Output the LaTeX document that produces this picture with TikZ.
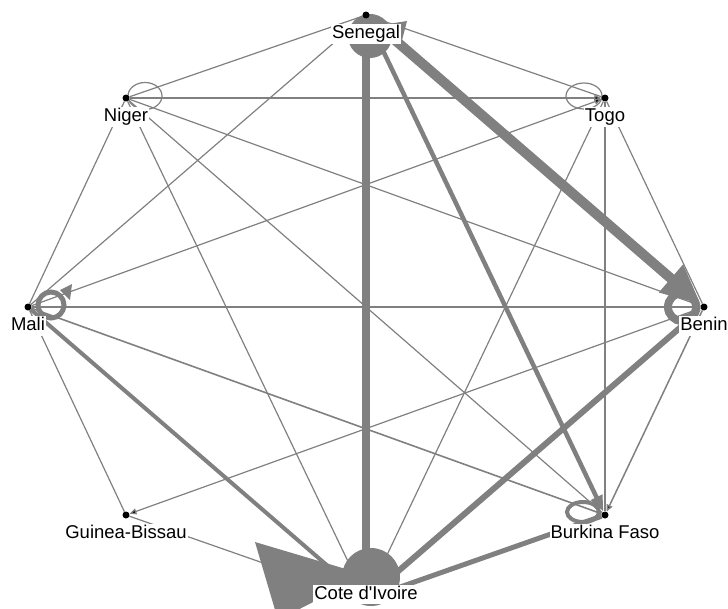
\documentclass[tikz,border=0pt]{standalone}
\usepackage{fontspec}
\newfontfamily\countryfont{Liberation Sans}
\usetikzlibrary{arrows.meta,positioning,backgrounds}

\begin{document}
\begin{tikzpicture}[x=1pt,y=-1pt,
   dot/.style={circle,fill=black,inner sep=0pt,minimum size=7pt},
   country/.style={font=\countryfont\fontsize{18.5}{20}\selectfont,fill=white,inner sep=1pt,
                   text height=13.5pt,text depth=4pt},
   link/.style={draw=gray,line width=1.2pt},
   tip/.style={-{Triangle[length=7pt,width=6pt]}}]
   \useasboundingbox (0,0) rectangle (728,608);
   % countries
   \node[dot] (senegal) at (366,15)  {};
   \node[dot] (togo)    at (605,98)  {};
   \node[dot] (benin)   at (704,307) {};
   \node[dot] (burkina) at (605,515) {};
   \node[dot] (cdi)     at (366,599) {};
   \node[dot] (guinea)  at (126,515) {};
   \node[dot] (mali)    at (28,307)  {};
   \node[dot] (niger)   at (126,98)  {};
   \node[country,below=5.5pt of senegal] (senegal-l) {Senegal};
   \node[country,below=5.5pt of togo]    (togo-l)    {Togo};
   \node[country,below=5.5pt of benin]   (benin-l)   {Benin};
   \node[country,below=5.5pt of burkina] (burkina-l) {Burkina Faso};
   \node[country,below=5.5pt of guinea]  (guinea-l)  {Guinea-Bissau};
   \node[country,below=5.5pt of mali]    (mali-l)    {Mali};
   \node[country,below=5.5pt of niger]   (niger-l)   {Niger};
   \node[country,anchor=base] (cdi-l) at (cdi.center) {Cote d'Ivoire};
   \begin{scope}[on background layer]
    \path[link]
    (senegal) edge (niger)
    (senegal) edge (togo)
    (senegal) edge (mali)
    (niger)   edge[tip] (togo)
    (niger)   edge (mali)
    (niger)   edge (cdi)
    (niger)   edge (benin)
    (niger)   edge (burkina)
    (mali)    edge[tip] (togo)
    (togo)    edge (cdi)
    (togo)    edge (benin)
    (togo)    edge (burkina)
    (mali)    edge[line width=1.5pt] (benin)
    (mali)    edge[line width=1.6pt] (burkina)
    (mali)    edge (guinea)
    (benin)   edge[tip] (guinea)
    (guinea)  edge (cdi)
    (benin)   edge[tip,line width=1.5pt] (burkina);
    % heavy flows
    \draw[link,line width=7.5pt] (senegal) -- (cdi);
    \draw[link,line width=10pt,-{Triangle[length=40pt,width=34pt]}] (senegal) -- (benin);
    \draw[link,line width=4.5pt,-{Triangle[length=16pt,width=12pt]}] (senegal) -- (burkina);
    \draw[link,line width=6pt,-{Triangle[length=24pt,width=20pt]}] (cdi) -- (benin);
    \draw[link,line width=5pt] (cdi) -- (burkina);
    \draw[link,line width=4pt] (mali) -- (cdi);
    % self loops
    \draw[link] ([shift={(19,-2)}]niger.center) ellipse (17 and 13.5);
    \draw[link] ([shift={(-21,-2)}]togo.center) ellipse (18 and 13);
    \draw[link,line width=5pt] ([shift={(23,-2)}]mali.center) circle (13);
    \fill[gray] ([shift={(32,-17)}]mali.center) -- ([shift={(44,-23)}]mali.center)
       -- ([shift={(42,-7)}]mali.center) -- cycle;
    \draw[link,line width=8pt] ([shift={(-22,0)}]benin.center) circle (14);
    \draw[link,line width=4pt] ([shift={(-22,-3)}]burkina.center) ellipse (16 and 10);
    \fill[gray] ([shift={(4,21)}]senegal.center) circle (22);
    \fill[gray] ([shift={(22,9)}]senegal.center) -- ([shift={(41,6)}]senegal.center)
       -- ([shift={(34,33)}]senegal.center) -- cycle;
    \fill[gray] ([shift={(5,-22)}]cdi.center) circle (29);
    \fill[gray] ([shift={(-111,-57)}]cdi.center) -- ([shift={(-88,21)}]cdi.center)
       -- ([shift={(0,-24)}]cdi.center) -- cycle;
   \end{scope}
\end{tikzpicture}
\end{document}
